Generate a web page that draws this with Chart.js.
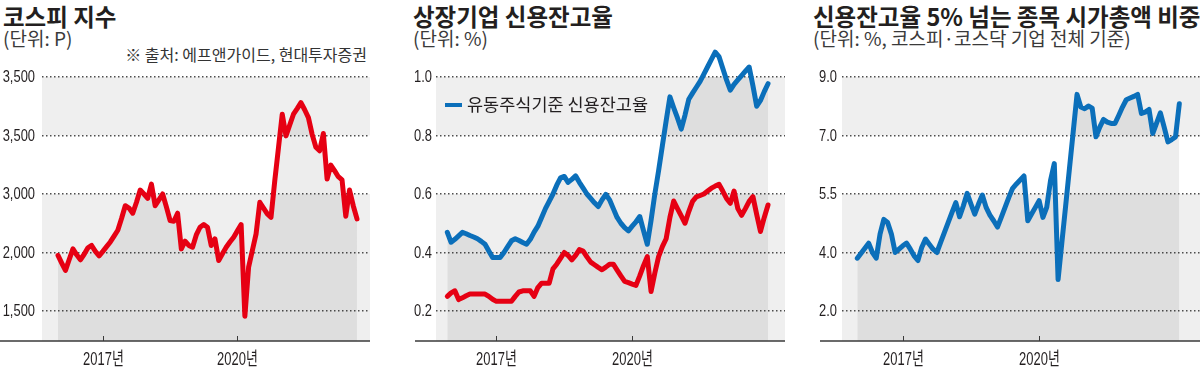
<!DOCTYPE html>
<html>
<head>
<meta charset="utf-8">
<script src="https://cdn.jsdelivr.net/npm/chart.js@4.4.0/dist/chart.umd.min.js"></script>
<style>
  body { margin: 0; width: 1200px; height: 377px; position: relative; overflow: hidden; background: #fff;
         font-family: 'Noto Sans CJK KR', sans-serif; color: #231f20; }
  canvas { position: absolute; top: 0; }
  .title { position: absolute; top: 3px; font-size: 23.5px; line-height: 26px; font-weight: 700; white-space: nowrap; }
  .unit { position: absolute; top: 27px; font-size: 19px; line-height: 22px; color: #3a3a3a; white-space: nowrap; }
  .note { position: absolute; top: 44px; left: 0; width: 367px; text-align: right; font-size: 16px; line-height: 20px; color: #333; white-space: nowrap; }
  .legend { position: absolute; top: 93px; left: 445px; font-size: 17.5px; line-height: 22px; color: #231f20; white-space: nowrap; }
  .legend i { display: inline-block; width: 17px; height: 4px; background: #0b6fba; vertical-align: middle; margin-right: 5px; margin-top: -3px; }
</style>
</head>
<body>
<div class="title" style="left:3px">코스피 지수</div>
<div class="unit" style="left:3px">(단위: P)</div>
<div class="note">※ 출처: 에프앤가이드, 현대투자증권</div>
<canvas id="kospiChart" width="400" height="377" style="left:0"></canvas>

<div class="title" style="left:413px">상장기업 신용잔고율</div>
<div class="unit" style="left:413px">(단위: %)</div>
<canvas id="creditChart" width="400" height="377" style="left:400px"></canvas>
<div class="legend"><i></i>유동주식기준 신용잔고율</div>

<div class="title" style="left:813px">신용잔고율 5% 넘는 종목 시가총액 비중</div>
<div class="unit" style="left:813px">(단위: %, 코스피·코스닥 기업 전체 기준)</div>
<canvas id="shareChart" width="400" height="377" style="left:800px"></canvas>

<script>
// 코스피 지수, 월별 (2016.01 ~)
var kospiStart = "2016.01";
var kospi = [1975,1910,1847,1940,2031,1980,1938,1985,2040,2060,2010,1972,
  2010,2050,2090,2140,2190,2290,2400,2380,2336,2430,2534,2500,
  2463,2585,2400,2450,2500,2390,2273,2267,2336,2031,2097,2060,
  2045,2150,2216,2239,2216,2060,2117,1932,1990,2045,2090,2131,
  2185,2239,1455,1875,2017,2159,2429,2380,2330,2301,2614,2898,
  3182,2997,3090,3182,3230,3281,3220,3153,3010,2900,2869,3017,
  2628,2747,2700,2648,2620,2310,2534,2400,2287];

// 상장기업 신용잔고율 (2015.12 ~)
var creditStart = "2015.12";
var creditFloat = [0.469,0.435,0.445,0.457,0.469,0.464,0.458,0.453,0.447,0.438,0.428,0.405,
  0.383,0.383,0.383,0.40,0.42,0.44,0.447,0.441,0.434,0.428,0.445,0.47,
  0.49,0.52,0.55,0.575,0.60,0.63,0.655,0.66,0.64,0.65,0.662,0.64,
  0.62,0.60,0.585,0.57,0.557,0.58,0.599,0.58,0.55,0.52,0.50,0.485,
  0.474,0.49,0.505,0.523,0.475,0.428,0.51,0.60,0.68,0.765,0.85,0.932,
  0.895,0.86,0.822,0.87,0.924,0.945,0.965,0.985,1.01,1.035,1.06,1.085,
  1.07,1.03,0.99,0.955,0.975,0.99,1.005,1.02,1.034,0.97,0.90,0.92,
  0.95,0.977];
var creditListed = [0.25,0.262,0.269,0.239,0.245,0.252,0.258,0.258,0.258,0.258,0.258,0.25,
  0.24,0.233,0.233,0.233,0.233,0.233,0.25,0.265,0.269,0.269,0.269,0.25,
  0.28,0.295,0.295,0.295,0.344,0.36,0.38,0.40,0.39,0.375,0.39,0.41,
  0.405,0.385,0.367,0.358,0.349,0.341,0.35,0.36,0.36,0.34,0.32,0.301,
  0.297,0.292,0.2875,0.32,0.355,0.386,0.267,0.33,0.386,0.42,0.447,0.52,
  0.576,0.55,0.525,0.50,0.54,0.575,0.59,0.595,0.60,0.61,0.62,0.627,
  0.633,0.61,0.585,0.568,0.61,0.55,0.527,0.55,0.575,0.591,0.53,0.472,
  0.52,0.5625];

// 신용잔고율 5% 넘는 종목 시가총액 비중 (2016.01 ~)
var shareStart = "2016.01";
var share5 = [3.58,3.73,3.88,4.03,3.75,3.58,4.30,4.74,4.65,4.30,3.75,3.85,
  3.95,4.03,3.85,3.65,3.51,3.90,4.15,4.00,3.85,3.75,4.05,4.35,
  4.65,4.95,5.24,4.82,5.15,5.52,5.20,4.90,5.20,5.47,5.10,4.87,
  4.70,4.51,4.80,5.10,5.40,5.67,5.80,5.92,6.04,4.70,4.90,5.10,
  5.30,4.80,5.10,5.90,6.41,2.94,4.05,5.15,6.26,7.37,8.48,8.10,
  8.05,8.13,8.07,7.21,7.50,7.73,7.65,7.61,7.61,7.85,8.10,8.32,
  8.37,8.42,8.48,7.91,7.95,8.03,7.31,7.62,7.93,7.50,7.06,7.13,
  7.21,8.20];

var kospiTicks = [1500, 2000, 2500, 3000, 3500];
var kospiTickLabels = ["1,500", "2,000", "3,000", "3,500", "3,500"];
var creditTicks = [0.2, 0.4, 0.6, 0.8, 1.0];
var creditTickLabels = ["0.2", "0.4", "0.6", "0.8", "1.0"];
var shareTicks = [2.0, 3.75, 5.5, 7.25, 9.0];
var shareTickLabels = ["2.0", "4.0", "5.5", "7.0", "9.0"];
var yearMonths = ["2017.01", "2020.01"];
var yearLabels = ["2017년", "2020년"];

var RED = "#e60013", BLUE = "#0b6fba";
var LABEL_FONT = "'Liberation Sans', 'Noto Sans CJK KR', sans-serif";

function monthList(start, n) {
  var p = start.split("."), y = +p[0], m = +p[1], out = [];
  for (var i = 0; i < n; i++) {
    out.push(y + "." + (m < 10 ? "0" : "") + m);
    m++;
    if (m > 12) { m = 1; y++; }
  }
  return out;
}

// condensed label, like the newspaper's narrow figures
function narrowText(ctx, text, x, y, size, squeeze, align) {
  ctx.save();
  ctx.translate(x, y);
  ctx.scale(squeeze, 1);
  ctx.font = size + "px " + LABEL_FONT;
  ctx.fillStyle = "#231f20";
  ctx.textAlign = align;
  ctx.textBaseline = "middle";
  ctx.fillText(text, 0, 0);
  ctx.restore();
}

// 배경, 축선, 연도 눈금, 눈금 글자
var deco = {
  id: "deco",
  beforeDraw: function (chart, args, o) {
    var ctx = chart.ctx, a = chart.chartArea, y = chart.scales.y;
    ctx.save();
    ctx.fillStyle = "#efefef";
    ctx.fillRect(a.left, a.top, a.right - a.left, a.bottom - a.top);
    var y1 = y.getPixelForValue(o.ticks[3]), y2 = y.getPixelForValue(o.ticks[2]);
    ctx.fillStyle = "#fff";
    ctx.fillRect(a.left, y1, a.right - a.left, y2 - y1);
    ctx.restore();
  },
  afterDraw: function (chart, args, o) {
    var ctx = chart.ctx, a = chart.chartArea, x = chart.scales.x, y = chart.scales.y;
    ctx.save();
    ctx.strokeStyle = "#3a3a3a";
    ctx.lineWidth = 1.5;
    ctx.beginPath();
    ctx.moveTo(o.axisFrom, a.bottom);
    ctx.lineTo(a.right, a.bottom);
    ctx.stroke();
    ctx.lineWidth = 1;
    o.yearIdx.forEach(function (v, i) {
      var px = Math.round(x.getPixelForValue(v)) + 0.5;
      ctx.beginPath();
      ctx.moveTo(px, a.bottom);
      ctx.lineTo(px, a.bottom - 5);
      ctx.stroke();
      narrowText(ctx, yearLabels[i], px, a.bottom + 19, 18, 0.72, "center");
    });
    o.ticks.forEach(function (v, i) {
      narrowText(ctx, o.tickLabels[i], a.left - o.labelPad, y.getPixelForValue(v) + 0.5, 17, 0.76, "right");
    });
    ctx.restore();
  }
};

function makeChart(id, p) {
  var labels = monthList(p.start, p.series[0].data.length);
  var yearIdx = yearMonths.map(function (m) { return labels.indexOf(m); });
  var top = p.ticks[p.ticks.length - 1], bottom = p.ticks[0];
  var yMin = bottom - (top - bottom) * 30 / 234;

  var datasets = p.series.map(function (s) {
    return {
      data: s.data.map(function (v, i) { return { x: i, y: v }; }),
      borderColor: s.color,
      borderWidth: 5,
      borderJoinStyle: "round",
      borderCapStyle: "round",
      pointRadius: 0,
      tension: 0,
      fill: s.fill ? "start" : false,
      backgroundColor: "rgba(0,0,0,0.07)",
      clip: false
    };
  });

  return new Chart(document.getElementById(id), {
    type: "line",
    data: { datasets: datasets },
    plugins: [deco],
    options: {
      responsive: false,
      animation: false,
      devicePixelRatio: 1,
      layout: { padding: { top: 77, right: p.padRight, left: 0, bottom: 0 } },
      plugins: {
        legend: { display: false },
        tooltip: { enabled: false },
        deco: { ticks: p.ticks, tickLabels: p.tickLabels, axisFrom: p.axisFrom, yearIdx: yearIdx, labelPad: p.labelPad }
      },
      scales: {
        x: {
          type: "linear",
          min: -p.xPad[0],
          max: labels.length - 1 + p.xPad[1],
          grid: { display: false, drawTicks: false },
          border: { display: false },
          ticks: { display: false },
          afterFit: function (s) { s.height = 36; }
        },
        y: {
          min: yMin,
          max: top,
          grid: { color: "#4d4d4d", lineWidth: 1.5, drawTicks: false },
          border: { display: false, dash: [1.5, 2.5] },
          afterBuildTicks: function (s) { s.ticks = p.ticks.map(function (v) { return { value: v }; }); },
          afterFit: function (s) { s.width = p.yWidth; },
          ticks: { display: false }
        }
      }
    }
  });
}

makeChart("kospiChart", {
  start: kospiStart,
  series: [{ data: kospi, color: RED, fill: true }],
  ticks: kospiTicks, tickLabels: kospiTickLabels,
  yWidth: 42, padRight: 30, axisFrom: 0, xPad: [4.28, 3.48], labelPad: 7
});

makeChart("creditChart", {
  start: creditStart,
  series: [{ data: creditListed, color: RED, fill: false },
           { data: creditFloat, color: BLUE, fill: true }],
  ticks: creditTicks, tickLabels: creditTickLabels,
  yWidth: 36, padRight: 15, axisFrom: 15, xPad: [3.0, 4.5], labelPad: 4
});

makeChart("shareChart", {
  start: shareStart,
  series: [{ data: share5, color: BLUE, fill: true }],
  ticks: shareTicks, tickLabels: shareTickLabels,
  yWidth: 42, padRight: 0, axisFrom: 20, xPad: [4.04, 5.46], labelPad: 5
});
</script>
</body>
</html>
